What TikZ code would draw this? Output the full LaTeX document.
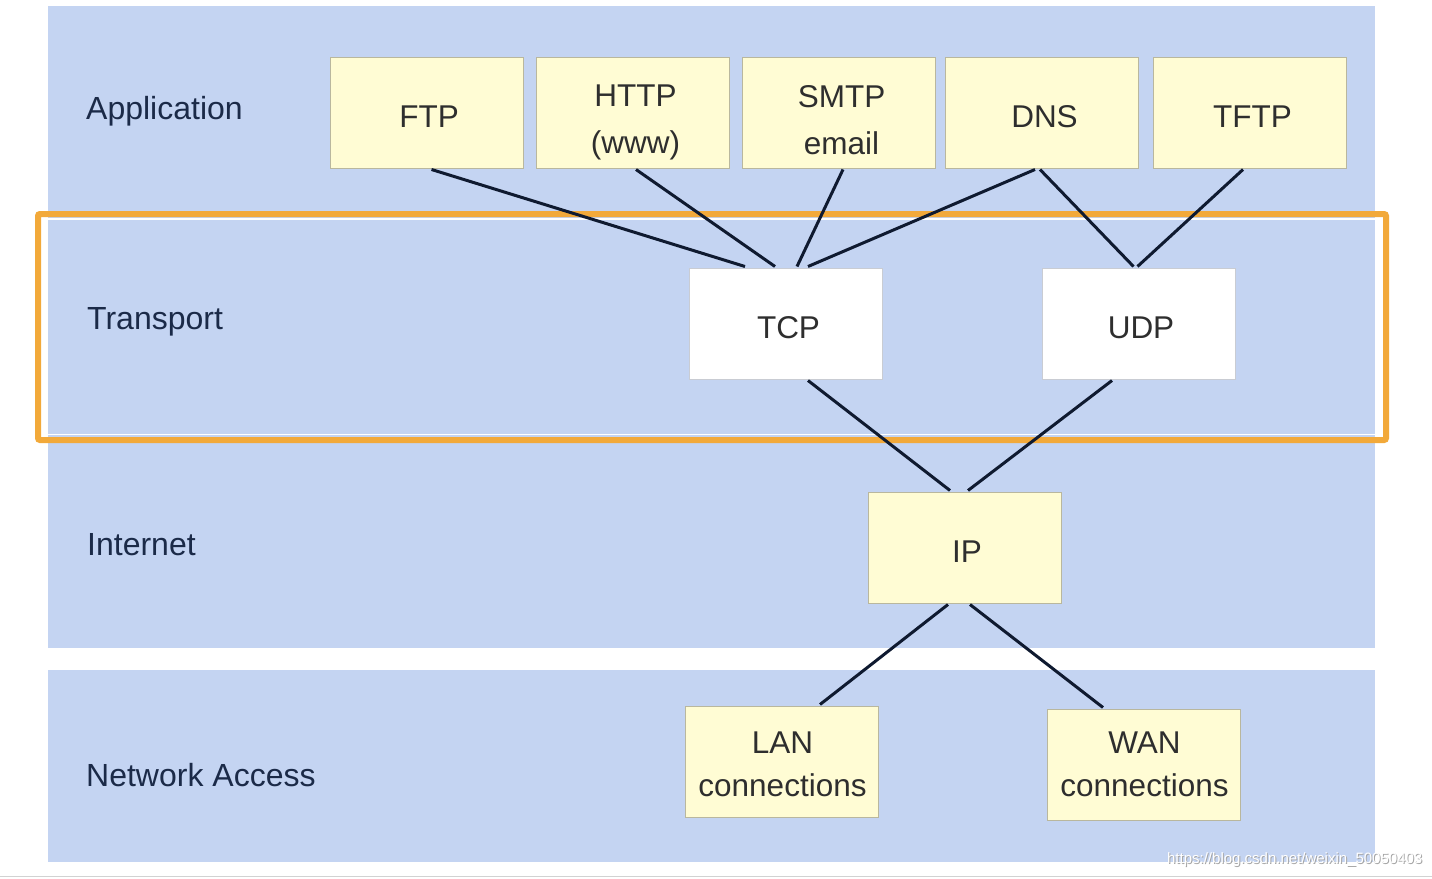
\documentclass[tikz,border=0pt]{standalone}
\usepackage{fontspec}
\setmainfont{Liberation Sans}
\usetikzlibrary{calc}
\definecolor{bandblue}{HTML}{C4D4F2}
\definecolor{frameorange}{HTML}{F2A93A}
\definecolor{boxyellow}{HTML}{FFFCD4}
\definecolor{boxedge}{HTML}{B9B79E}
\definecolor{whiteedge}{HTML}{C9CCD3}
\definecolor{linknavy}{HTML}{0F1A30}
\definecolor{labelnavy}{HTML}{1B2A48}
\definecolor{boxtext}{HTML}{2E2E2E}
\begin{document}
\begin{tikzpicture}[x=1pt,y=-1pt,
  band/.style={fill=bandblue,draw=none},
  proto/.style={draw=boxedge,fill=boxyellow,line width=1pt,minimum width=193pt,minimum height=111pt,inner sep=0pt},
  tproto/.style={proto,draw=whiteedge,fill=white},
  ptext/.style={inner sep=0pt,align=center,text=boxtext,xshift=2.5pt,font=\fontsize{31.5}{47}\selectfont},
  ntext/.style={inner sep=0pt,align=center,text=boxtext,xshift=1pt,font=\fontsize{31.5}{43}\selectfont},
  layerlabel/.style={anchor=base west,inner sep=0pt,text=labelnavy,font=\fontsize{32}{38}\selectfont},
  link/.style={draw=linknavy,line width=3pt}]
\useasboundingbox (0,0) rectangle (1432,878);
\fill[white] (0,0) rectangle (1432,878);
% bands
\fill[band] (48,6) rectangle (1375,218);
\fill[band] (48,220) rectangle (1375,446);
\fill[band] (48,446) rectangle (1375,648);
\fill[band] (48,670) rectangle (1375,862);
% orange frame
\draw[frameorange,line width=6pt,rounded corners=2pt] (38,214) rectangle (1386,440);
\draw[white,line width=1.2pt] (43.5,219.5) rectangle (1380.5,434.5);
% layer labels
\node[layerlabel] (lapp) at (86,119) {Application};
\node[layerlabel] (ltra) at (87,329) {Transport};
\node[layerlabel] (lint) at (87,555) {Internet};
\node[layerlabel] (lnet) at (86,786) {Network Access};
% protocol boxes
\node[proto,label={[ptext,yshift=-4pt]center:FTP}] (ftp) at (426.5,112.5) {};
\node[proto,label={[ptext,yshift=-10pt]center:HTTP\\(www)}] (http) at (633,112.5) {};
\node[proto,label={[ptext,yshift=-8pt]center:SMTP\\email}] (smtp) at (839,112.5) {};
\node[proto,label={[ptext,yshift=-4pt]center:DNS}] (dns) at (1042,112.5) {};
\node[proto,label={[ptext,yshift=-4pt]center:TFTP}] (tftp) at (1250,112.5) {};
\node[tproto,label={[ptext,yshift=-4pt]center:TCP}] (tcp) at (786,323.5) {};
\node[tproto,label={[ptext,yshift=-4pt]center:UDP}] (udp) at (1138.5,323.5) {};
\node[proto,label={[ptext,yshift=-4pt]center:IP}] (ip) at (964.5,547.5) {};
\node[proto,label={[ntext,yshift=-3pt]center:LAN\\connections}] (lan) at (781.5,761.5) {};
\node[proto,label={[ntext,yshift=0pt]center:WAN\\connections}] (wan) at (1143.5,764.5) {};
% links
\draw[link] ($(ftp.south)+(5,1)$) -- ($(tcp.north)+(-41,-1)$);
\draw[link] ($(http.south)+(3,1)$) -- ($(tcp.north)+(-11,-1)$);
\draw[link] ($(smtp.south)+(4,1)$) -- ($(tcp.north)+(11,-1)$);
\draw[link] ($(dns.south)+(-7,1)$) -- ($(tcp.north)+(22,-1)$);
\draw[link] ($(dns.south)+(-2,1)$) -- ($(udp.north)+(-5,-1)$);
\draw[link] ($(tftp.south)+(-7,1)$) -- ($(udp.north)+(-1,-1)$);
\draw[link] ($(tcp.south)+(22,1)$) -- ($(ip.north)+(-14.5,-1)$);
\draw[link] ($(udp.south)+(-26.5,1)$) -- ($(ip.north)+(3.5,-1)$);
\draw[link] ($(ip.south)+(-16.5,1)$) -- ($(lan.north)+(38.5,-1)$);
\draw[link] ($(ip.south)+(5.5,1)$) -- ($(wan.north)+(-40.5,-1)$);
% watermark and bottom rule
\node[anchor=base east,inner sep=0pt,text=gray!70,font=\fontsize{15}{18}\selectfont] (wm0) at (1423.5,864) {https://blog.csdn.net/weixin\_50050403};
\node[anchor=base east,inner sep=0pt,text=white,font=\fontsize{15}{18}\selectfont] (wm) at (1422.5,863) {https://blog.csdn.net/weixin\_50050403};
\draw[gray!35,line width=1.5pt] (0,876.5) -- (1432,876.5);
\end{tikzpicture}
\end{document}
